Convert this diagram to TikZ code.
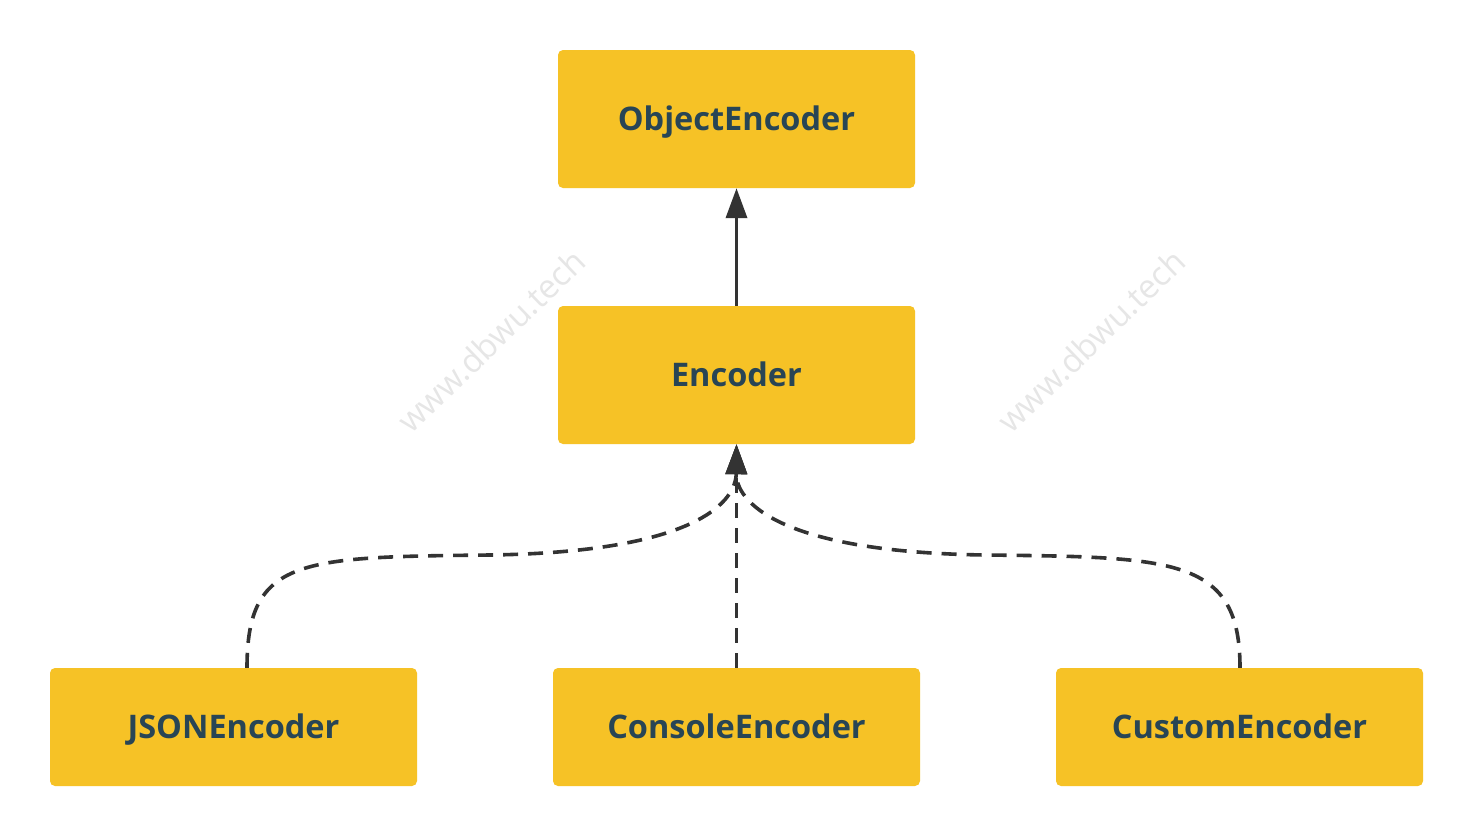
\documentclass[tikz,border=0pt]{standalone}
\usepackage{fontspec}
\setmainfont{Open Sans}
\usetikzlibrary{arrows.meta}
\definecolor{boxfill}{HTML}{F6C226}
\definecolor{boxtext}{HTML}{284555}
\definecolor{linec}{HTML}{333333}
\definecolor{wmark}{HTML}{E6E6E6}
\begin{document}
\begin{tikzpicture}[x=1pt,y=-1pt,
  cls/.style={fill=boxfill,draw=none,rounded corners=5pt,inner sep=0pt,
    text=boxtext,font=\fontsize{32.5}{38}\selectfont\bfseries,
    text height=23pt,text depth=0pt},
  topbox/.style={cls,minimum width=357pt,minimum height=138pt},
  botbox/.style={cls,minimum width=367pt,minimum height=118pt},
  inherit/.style={draw=linec,line width=3.6pt,-{Triangle[length=30pt,width=21pt]}},
  realize/.style={inherit,dash pattern=on 15pt off 10pt},
  wm/.style={text=wmark,font=\fontsize{33}{38}\selectfont,rotate=44}]
\useasboundingbox (0,0) rectangle (1473,836);
\fill[white] (0,0) rectangle (1473,836);
\node[wm] (wm1) at (491,341) {www.dbwu.tech};
\node[wm] (wm2) at (1091,341) {www.dbwu.tech};
\node[topbox] (obj) at (736.5,119) {ObjectEncoder};
\node[topbox] (enc) at (736.5,375) {Encoder};
\node[botbox] (json) at (233.5,727) {JSONEncoder};
\node[botbox] (cons) at (736.5,727) {ConsoleEncoder};
\node[botbox] (cust) at (1239.5,727) {CustomEncoder};
\draw[inherit] (enc.north) -- (obj.south);
\draw[realize] (cons.north) -- (enc.south);
\draw[realize] ([xshift=13.5pt]json.north) .. controls +(0,-110) and (300,557) .. (490,555)
  .. controls (700,552) and (736,500) .. (enc.south);
\draw[realize] ([xshift=0.5pt]cust.north) .. controls +(0,-110) and (1175,557) .. (985,555)
  .. controls (775,552) and (736,500) .. (enc.south);
\end{tikzpicture}
\end{document}
